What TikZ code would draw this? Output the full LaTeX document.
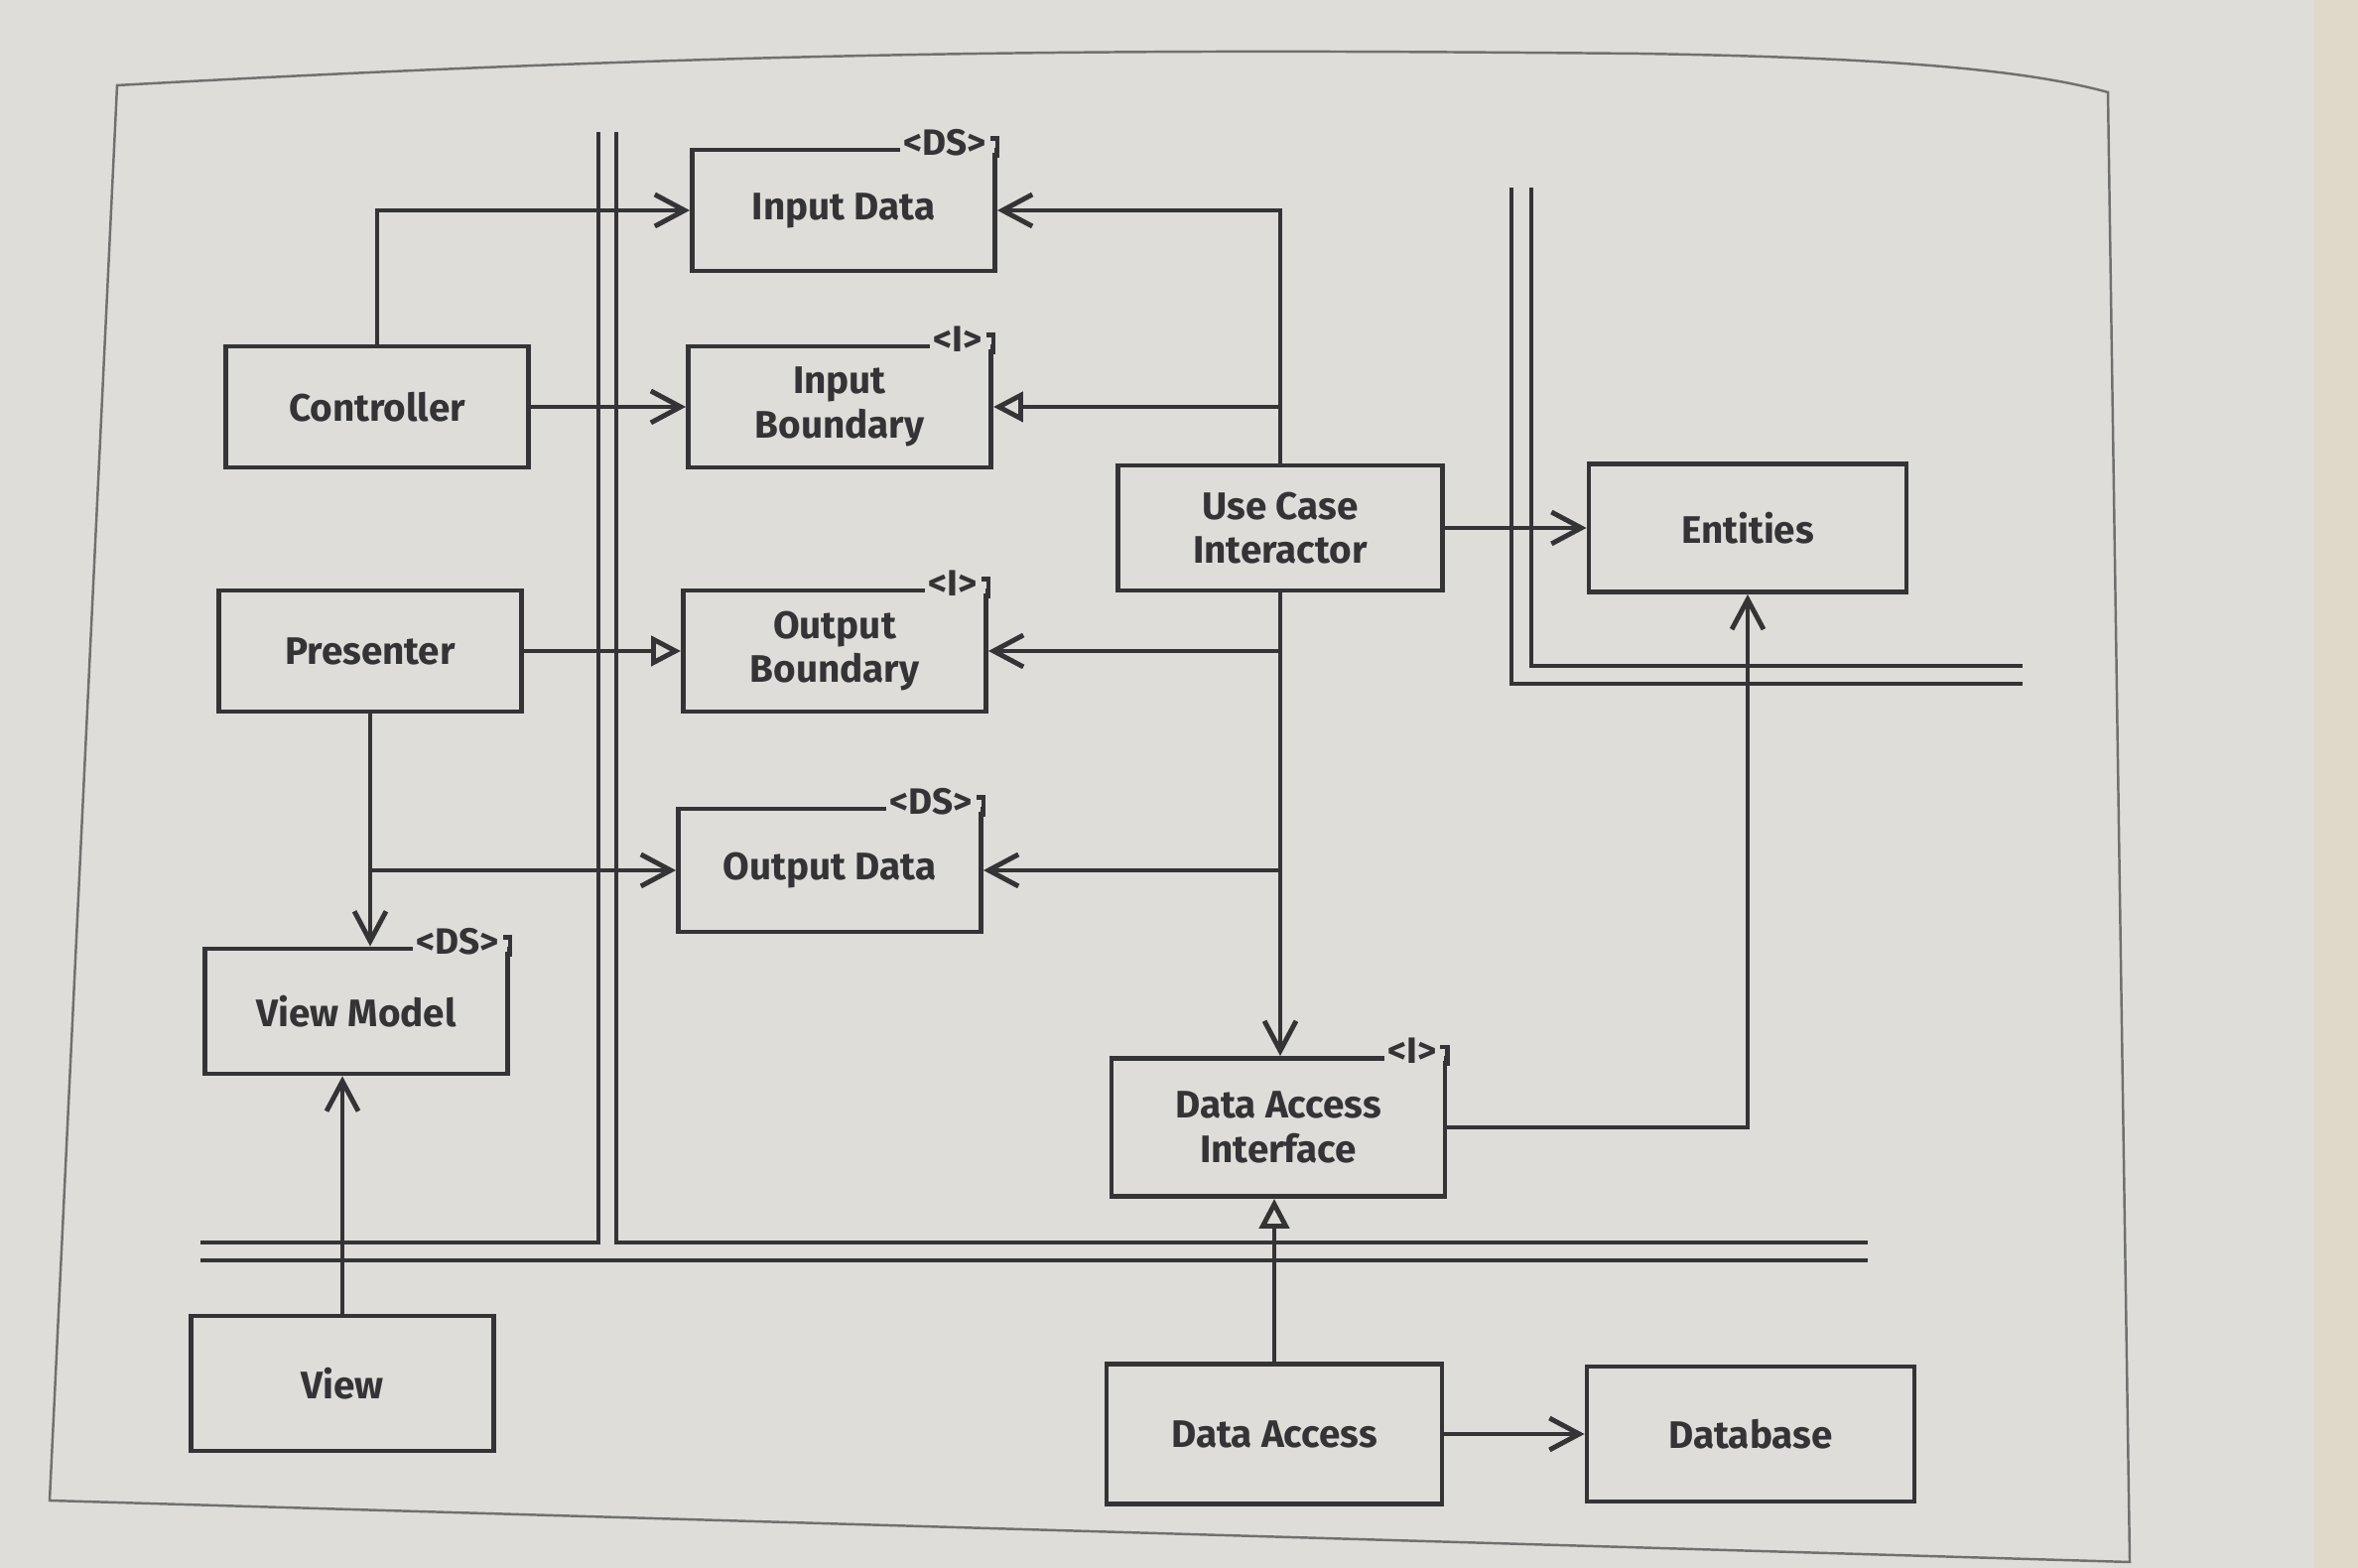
\documentclass[tikz,border=0pt]{standalone}
\usepackage{fontspec}
\setmainfont{Fira Sans}
\usetikzlibrary{arrows.meta,calc}

\definecolor{paper}{RGB}{222,221,217}
\definecolor{ink}{RGB}{52,52,54}
\definecolor{frameline}{RGB}{112,112,112}
\definecolor{strip}{RGB}{224,216,200}

\tikzset{
  box/.style={draw=ink, line width=1.4pt, fill=paper, text=ink, minimum width=3.05cm, minimum height=1.22cm, align=center, font=\bfseries\fontsize{11}{12.6}\selectfont},
  stereo/.style={fill=paper, text=ink, inner sep=1pt, font=\bfseries\fontsize{10.5}{10.5}\selectfont},
  uses/.style={draw=ink, line width=1.4pt, -{Straight Barb[length=3mm,width=3.2mm]}},
  impl/.style={draw=ink, line width=1.4pt, -{Triangle[length=3mm,width=3mm,fill=paper]}},
  wall/.style={draw=ink, line width=1.2pt},
}

% stereotype tag on the top right corner of a box
\newcommand\stereotag[2]{%
  \fill[paper] ([xshift=-0.12cm,yshift=-0.05cm]#1.north east) rectangle ([xshift=-0.03cm,yshift=0.05cm]#1.north east);
  \node[stereo, anchor=east] at ([xshift=-0.07cm,yshift=0.05cm]#1.north east) {#2};
  \draw[wall, line width=1.4pt] ([yshift=-0.1cm]#1.north east) -- ++(0,0.19) -- ++(-0.07,0);
}

\begin{document}
\begin{tikzpicture}
\useasboundingbox (0,0) rectangle (23.76,15.80);
\fill[paper] (0,0) rectangle (23.76,15.80);
\fill[strip] (23.32,0) rectangle (23.76,15.80);
\draw[frameline, line width=0.7pt] (1.18,14.94) .. controls (8,15.32) and (12,15.30) .. (16.5,15.26)
  .. controls (19,15.22) and (20.4,15.1) .. (21.24,14.87) -- (21.46,0.06) -- (0.50,0.68) -- cycle;

% boundaries
\draw[wall] (6.03,14.47) -- (6.03,3.28) -- (2.02,3.28);
\draw[wall] (6.21,14.47) -- (6.21,3.28) -- (18.82,3.28);
\draw[wall] (2.02,3.10) -- (18.82,3.10);
\draw[wall] (15.23,13.91) -- (15.23,8.91) -- (20.38,8.91);
\draw[wall] (15.43,13.91) -- (15.43,9.09) -- (20.38,9.09);

% boxes
\node[box] (ctrl) at (3.80,11.70) {Controller};
\node[box] (pres) at (3.73,9.24) {Presenter};
\node[box, minimum height=1.26cm] (vm) at (3.59,5.61) {View Model};
\node[box, minimum height=1.36cm] (view) at (3.45,1.86) {View};
\node[box] (indata) at (8.50,13.68) {Input Data};
\node[box] (inbound) at (8.46,11.70) {Input\\Boundary};
\node[box] (outbound) at (8.41,9.24) {Output\\Boundary};
\node[box, minimum height=1.24cm] (outdata) at (8.36,7.03) {Output Data};
\node[box, minimum width=3.27cm, minimum height=1.26cm] (uci) at (12.90,10.48) {Use Case\\Interactor};
\node[box, minimum width=3.20cm, minimum height=1.29cm] (ent) at (17.61,10.48) {Entities};
\node[box, minimum width=3.36cm, minimum height=1.39cm] (dai) at (12.88,4.44) {Data Access\\Interface};
\node[box, minimum width=3.38cm, minimum height=1.41cm] (da) at (12.84,1.35) {Data Access};
\node[box, minimum width=3.30cm, minimum height=1.36cm] (db) at (17.64,1.35) {Database};

\stereotag{indata}{<DS>}
\stereotag{inbound}{<I>}
\stereotag{outbound}{<I>}
\stereotag{outdata}{<DS>}
\stereotag{vm}{<DS>}
\stereotag{dai}{<I>}

% connectors
\draw[uses] (ctrl.north) |- (indata.west);
\draw[uses] (ctrl.east) -- (inbound.west);
\draw[uses] (uci.north) |- (indata.east);
\draw[impl] (uci.north |- inbound.east) -- (inbound.east);
\draw[uses] (uci.east) -- (ent.west);
\draw[uses] (uci.south) -- (uci.south |- dai.north);
\draw[uses] (uci.south |- outbound.east) -- (outbound.east);
\draw[uses] (uci.south |- outdata.east) -- (outdata.east);
\draw[impl] (pres.east) -- (outbound.west);
\draw[uses] (pres.south) -- (pres.south |- vm.north);
\draw[uses] (pres.south |- outdata.west) -- (outdata.west);
\draw[uses] (view.north) -- (view.north |- vm.south);
\draw[uses] (dai.east) -| (ent.south);
\draw[impl] (da.north) -- (da.north |- dai.south);
\draw[uses] (da.east) -- (db.west);
\end{tikzpicture}
\end{document}
